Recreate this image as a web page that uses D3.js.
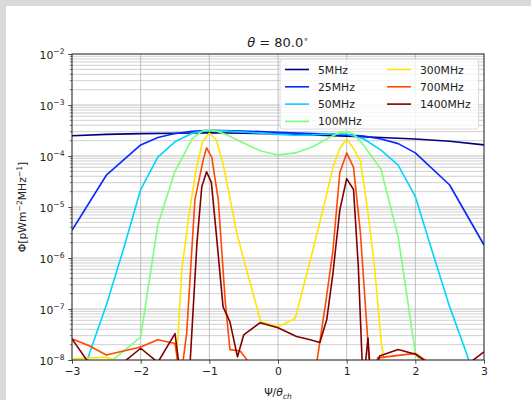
<!DOCTYPE html>
<html>
<head>
<meta charset="utf-8">
<script src="https://cdn.jsdelivr.net/npm/d3@7"></script>
<style>
  body { margin: 0; background: #d9d9d9; }
  svg { display: block; font-family: "DejaVu Sans", sans-serif; }
</style>
</head>
<body>
<div id="chart"></div>
<script>
// psi/theta_ch vs flux (values under 1e-8 are clipped)
var mhz5 = [[-3,2.5e-4],[-2.5,2.65e-4],[-2,2.75e-4],[-1.5,2.8e-4],[-1,2.85e-4],[-0.5,2.8e-4],[0,2.7e-4],[0.5,2.6e-4],[1,2.45e-4],[1.5,2.3e-4],[2,2.15e-4],[2.5,1.95e-4],[3,1.65e-4]]
var mhz25 = [[-3,3.5e-6],[-2.5,4.2e-5],[-2,1.65e-4],[-1.75,2.3e-4],[-1.5,2.75e-4],[-1.25,3.05e-4],[-1,3.2e-4],[-0.5,3.1e-4],[0,2.9e-4],[0.5,2.75e-4],[1,2.6e-4],[1.25,2.45e-4],[1.5,2.15e-4],[1.75,1.75e-4],[2,1.15e-4],[2.5,2.7e-5],[3,1.8e-6]]
var mhz50 = [[-3,1e-9],[-2.75,1.3e-8],[-2.5,1.2e-7],[-2.25,1.5e-6],[-2,2.2e-5],[-1.75,9.5e-5],[-1.5,1.9e-4],[-1.25,2.8e-4],[-1,3.2e-4],[-0.75,3.1e-4],[-0.5,2.95e-4],[-0.25,2.8e-4],[0,2.65e-4],[0.25,2.55e-4],[0.5,2.6e-4],[0.75,2.7e-4],[1,2.7e-4],[1.25,2.15e-4],[1.5,1.3e-4],[1.75,6.6e-5],[2,1.6e-5],[2.25,1.3e-6],[2.5,1.1e-7],[2.75,1.3e-8],[3,1e-9]]
var mhz100 = [[-3,1e-9],[-2.75,2e-9],[-2.5,8e-9],[-2.25,1.5e-8],[-2,2.8e-8],[-1.75,4.5e-6],[-1.5,5e-5],[-1.25,2.2e-4],[-1.1,3.1e-4],[-1,3.3e-4],[-0.9,3.1e-4],[-0.75,2.6e-4],[-0.5,1.8e-4],[-0.25,1.25e-4],[0,1.05e-4],[0.25,1.15e-4],[0.5,1.5e-4],[0.75,2.3e-4],[0.9,2.9e-4],[1,3e-4],[1.1,2.7e-4],[1.25,1.6e-4],[1.5,5.5e-5],[1.75,2.6e-6],[2,1.4e-8],[2.25,3e-9],[2.5,1e-9],[3,1e-9]]
var mhz300 = [[-3,1.06e-8],[-2.75,1.1e-8],[-2.5,1.13e-8],[-2.25,8.7e-9],[-2,3e-9],[-1.5,3e-9],[-1.4,6e-7],[-1.3,6.5e-6],[-1.2,4.8e-5],[-1.1,1.9e-4],[-1,2.8e-4],[-0.9,2.1e-4],[-0.8,7e-5],[-0.7,1.5e-5],[-0.6,3.1e-6],[-0.5,9.5e-7],[-0.25,5.6e-8],[0,4.5e-8],[0.25,6.5e-8],[0.32,1.5e-7],[0.5,1.3e-6],[0.6,4.5e-6],[0.7,1.6e-5],[0.8,6e-5],[0.9,1.4e-4],[1,2.15e-4],[1.1,1.4e-4],[1.2,8e-5],[1.3,1e-5],[1.4,8e-7],[1.5,2.5e-8],[1.6,3e-9],[3,3e-9]]
var mhz700 = [[-3,2.6e-8],[-2.75,1.9e-8],[-2.5,1.25e-8],[-2.25,1.5e-8],[-2,1.8e-8],[-1.75,2.5e-8],[-1.5,2.1e-8],[-1.42,4e-9],[-1.33,3.3e-8],[-1.21,1.4e-5],[-1.09,8.3e-5],[-1.04,1.45e-4],[-0.965,9.5e-5],[-0.87,1.4e-5],[-0.77,1.5e-7],[-0.7,1.6e-8],[-0.55,1.5e-8],[-0.45,1e-8],[-0.4,3e-9],[0.5,3e-9],[0.57,1e-8],[0.7,1.5e-7],[0.8,1.4e-6],[0.9,4.7e-5],[1,1.15e-4],[1.1,6e-5],[1.2,3.1e-6],[1.3,3.4e-8],[1.35,3e-9],[1.45,1.1e-8],[2,1.35e-8],[2.25,8e-9],[2.5,4e-9],[3,3e-9]]
var mhz1400 = [[-3,2.6e-8],[-2.75,8.5e-9],[-2.5,5e-9],[-2.25,9e-9],[-2,1.7e-8],[-1.75,9e-9],[-1.5,3.3e-8],[-1.4,3e-9],[-1.3,3e-9],[-1.18,2e-6],[-1.11,2.5e-5],[-1.04,4.9e-5],[-0.97,3e-5],[-0.9,3.1e-6],[-0.8,1.1e-7],[-0.7,5.6e-8],[-0.59,1.15e-8],[-0.5,3.1e-8],[-0.26,5.4e-8],[0,4.3e-8],[0.27,2.9e-8],[0.47,2.5e-8],[0.61,2.2e-8],[0.71,6.2e-8],[0.8,5e-7],[0.9,8.7e-6],[1,3.6e-5],[1.1,2.2e-5],[1.17,6.7e-7],[1.24,3e-9],[1.31,2.7e-8],[1.36,3e-9],[1.48,1.2e-8],[1.75,1.6e-8],[2,1.3e-8],[2.25,7.5e-9],[2.5,5e-9],[2.75,8e-9],[3,1.45e-8]]

var seriesNames = ["5MHz","25MHz","50MHz","100MHz","300MHz","700MHz","1400MHz"]
var seriesData = [mhz5, mhz25, mhz50, mhz100, mhz300, mhz700, mhz1400]
var seriesColors = ["#000080","#002aff","#00d4ff","#7dff7a","#ffe600","#ff4800","#800000"]
var xTicks = [-3,-2,-1,0,1,2,3]
var yExps = [-8,-7,-6,-5,-4,-3,-2]

var W = 531, H = 400
var margin = {top: 54, right: 47, bottom: 40, left: 72},
width = W - margin.left - margin.right,
height = H - margin.top - margin.bottom;

var svg0 = d3.select("#chart").append("svg")
  .attr("width", W)
  .attr("height", H)

// white figure, offset like the screenshot
svg0.append("rect")
  .attr("x", 6).attr("y", 6)
  .attr("width", W - 6).attr("height", H - 6)
  .attr("fill", "white")

var svg = svg0.append("g")
  .attr("transform", "translate(" + margin.left + "," + margin.top + ")")

var x = d3.scaleLinear().domain([-3, 3]).range([0, width])
var y = d3.scaleLog().domain([1e-8, 1e-2]).range([height, 0])

var minorVals = []
yExps.forEach(function(e){
  if (e == -2) return
  for (var k = 2; k <= 9; k++) minorVals.push(k * Math.pow(10, e))
})
var majorVals = yExps.map(function(e){ return Math.pow(10, e) })

// grid
svg.append("g").selectAll("line").data(minorVals).enter().append("line")
  .attr("x1", 0).attr("x2", width)
  .attr("y1", function(d){ return y(d) }).attr("y2", function(d){ return y(d) })
  .attr("stroke", "#c4c4c4").attr("stroke-width", 0.8)
svg.append("g").selectAll("line").data(majorVals).enter().append("line")
  .attr("x1", 0).attr("x2", width)
  .attr("y1", function(d){ return y(d) }).attr("y2", function(d){ return y(d) })
  .attr("stroke", "#b0b0b0").attr("stroke-width", 0.8)
svg.append("g").selectAll("line").data(xTicks).enter().append("line")
  .attr("y1", 0).attr("y2", height)
  .attr("x1", function(d){ return x(d) }).attr("x2", function(d){ return x(d) })
  .attr("stroke", "#b0b0b0").attr("stroke-width", 0.8)

svg.append("clipPath").attr("id", "clip")
  .append("rect").attr("width", width).attr("height", height)

var line = d3.line()
  .x(function(d){ return x(d[0]) })
  .y(function(d){ return y(d[1]) })

var lines = svg.append("g").attr("clip-path", "url(#clip)")
seriesData.forEach(function(s, i){
  lines.append("path")
    .attr("d", line(s))
    .attr("fill", "none")
    .attr("stroke", seriesColors[i])
    .attr("stroke-width", 1.6)
    .attr("stroke-linejoin", "round")
})

// axes
var xAxis = svg.append("g")
  .attr("transform", "translate(0," + height + ")")
  .call(d3.axisBottom(x).tickValues(xTicks).tickSize(3.8).tickPadding(4)
    .tickFormat(function(d){ return d < 0 ? "\u2212" + (-d) : d }))
xAxis.selectAll("text").attr("font-size", "10.8px").attr("fill", "#222").attr("font-family", "DejaVu Sans")

var yAxis = svg.append("g")
  .call(d3.axisLeft(y).tickValues(majorVals).tickSize(3.8).tickFormat(""))
svg.append("g").selectAll("line").data(minorVals).enter().append("line")
  .attr("x1", -2.2).attr("x2", 0)
  .attr("y1", function(d){ return y(d) }).attr("y2", function(d){ return y(d) })
  .attr("stroke", "#222").attr("stroke-width", 0.6)

var yLab = svg.append("g").selectAll("text").data(yExps).enter().append("text")
  .attr("x", -7.5)
  .attr("y", function(d){ return y(Math.pow(10, d)) + 4.5 })
  .attr("text-anchor", "end")
  .attr("font-size", "10.8px")
  .attr("fill", "#222")
yLab.append("tspan").text("10")
yLab.append("tspan").attr("dy", -5).attr("font-size", "7.6px").text(function(d){ return "\u2212" + (-d) })

;[xAxis, yAxis].forEach(function(a){
  a.select(".domain").remove()
  a.selectAll("line").attr("stroke", "#222").attr("stroke-width", 0.8)
})

svg.append("rect")
  .attr("width", width).attr("height", height)
  .attr("fill", "none").attr("stroke", "#222").attr("stroke-width", 0.9)

// title
var title = svg.append("text")
  .attr("x", width / 2).attr("y", -7)
  .attr("text-anchor", "middle")
  .attr("font-size", "13px")
  .attr("fill", "#222")
title.append("tspan").attr("font-style", "italic").text("\u03b8")
title.append("tspan").text(" = 80.0")
title.append("tspan").attr("dy", -5).attr("font-size", "9px").text("\u2218")

// axis labels
var xl = svg.append("text")
  .attr("x", width / 2).attr("y", height + 36)
  .attr("text-anchor", "middle")
  .attr("font-size", "10.8px")
  .attr("fill", "#222")
xl.append("tspan").text("\u03a8/")
xl.append("tspan").attr("font-style", "italic").text("\u03b8")
xl.append("tspan").attr("dy", 2.5).attr("font-size", "7.6px").attr("font-style", "italic").text("ch")

var yl = svg.append("text")
  .attr("transform", "translate(" + (-46) + "," + (height / 2) + ") rotate(-90)")
  .attr("text-anchor", "middle")
  .attr("font-size", "10.8px")
  .attr("fill", "#222")
yl.append("tspan").text("\u03a6[pWm")
yl.append("tspan").attr("dy", -4.5).attr("font-size", "7.6px").text("\u22122")
yl.append("tspan").attr("dy", 4.5).text("MHz")
yl.append("tspan").attr("dy", -4.5).attr("font-size", "7.6px").text("\u22121")
yl.append("tspan").attr("dy", 4.5).text("]")

// legend
var lx = 208, ly = 5, lw = 198.5, lh = 70
var legend = svg.append("g").attr("transform", "translate(" + lx + "," + ly + ")")
legend.append("rect")
  .attr("width", lw).attr("height", lh).attr("rx", 3)
  .attr("fill", "white").attr("fill-opacity", 0.8)
  .attr("stroke", "#d0d0d0").attr("stroke-width", 0.8)
seriesNames.forEach(function(name, i){
  var col = Math.floor(i / 4), row = i % 4
  var g = legend.append("g")
    .attr("transform", "translate(" + (5 + col * 102) + "," + (10.5 + row * 17.3) + ")")
  g.append("line").attr("x1", 0).attr("x2", 24)
    .attr("stroke", seriesColors[i]).attr("stroke-width", 1.6)
  g.append("text").attr("x", 33).attr("y", 4)
    .attr("font-size", "10.8px").attr("fill", "#222")
    .text(name)
})
</script>
</body>
</html>
